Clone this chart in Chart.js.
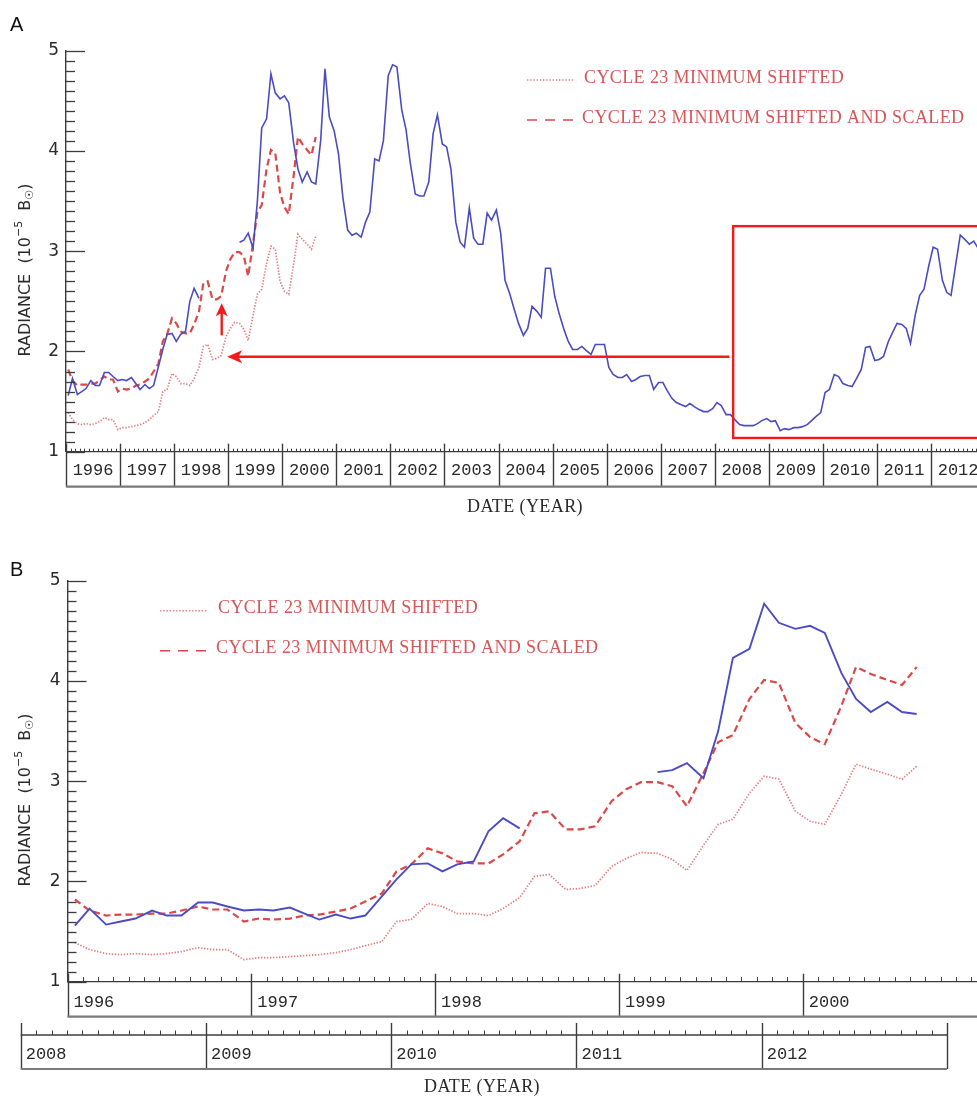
<!DOCTYPE html>
<html>
<head>
<meta charset="utf-8">
<script src="https://cdn.jsdelivr.net/npm/chart.js@4.4.1/dist/chart.umd.min.js"></script>
<style>
  html, body { margin: 0; padding: 0; background: #fff; overflow: hidden; width: 977px; height: 1099px; }
  .panel { position: absolute; left: 0; width: 977px; }
  #wrapA { top: 0; height: 545px; }
  #wrapB { top: 545px; height: 554px; }
</style>
</head>
<body>
<div class="panel" id="wrapA"><canvas id="chartA" width="977" height="545"></canvas></div>
<div class="panel" id="wrapB"><canvas id="chartB" width="977" height="554"></canvas></div>
<script>
// ---- Observed radiance (decimal year, 10^-5 B_sun); null marks the data gap ----
const blueDates = [
  1996.04, 1996.12, 1996.21, 1996.29, 1996.37, 1996.46, 1996.54, 1996.62, 1996.71, 1996.79, 1996.87, 1996.96,
  1997.04, 1997.12, 1997.21, 1997.29, 1997.37, 1997.46, 1997.54, 1997.62, 1997.71, 1997.79, 1997.87, 1997.96,
  1998.04, 1998.12, 1998.21, 1998.29, 1998.37, 1998.46, 1998.83,
  1999.21, 1999.29, 1999.37, 1999.46, 1999.54, 1999.62, 1999.71, 1999.79, 1999.87, 1999.96,
  2000.04, 2000.12, 2000.21, 2000.29, 2000.37, 2000.46, 2000.54, 2000.62, 2000.71, 2000.79, 2000.87, 2000.96,
  2001.04, 2001.12, 2001.21, 2001.29, 2001.37, 2001.46, 2001.54, 2001.62, 2001.71, 2001.79, 2001.87, 2001.96,
  2002.04, 2002.12, 2002.21, 2002.29, 2002.37, 2002.46, 2002.54, 2002.62, 2002.71, 2002.79, 2002.87, 2002.96,
  2003.04, 2003.12, 2003.21, 2003.29, 2003.37, 2003.46, 2003.54, 2003.62, 2003.71, 2003.79, 2003.87, 2003.96,
  2004.04, 2004.12, 2004.21, 2004.29, 2004.37, 2004.46, 2004.54, 2004.62, 2004.71, 2004.79, 2004.87, 2004.96,
  2005.04, 2005.12, 2005.21, 2005.29, 2005.37, 2005.46, 2005.54, 2005.62, 2005.71, 2005.79, 2005.87, 2005.96,
  2006.04, 2006.12, 2006.21, 2006.29, 2006.37, 2006.46, 2006.54, 2006.62, 2006.71, 2006.79, 2006.87, 2006.96,
  2007.04, 2007.12, 2007.21, 2007.29, 2007.37, 2007.46, 2007.54, 2007.62, 2007.71, 2007.79, 2007.87, 2007.96,
  2008.04, 2008.12, 2008.21, 2008.29, 2008.37, 2008.46, 2008.54, 2008.62, 2008.71, 2008.79, 2008.87, 2008.96,
  2009.04, 2009.12, 2009.21, 2009.29, 2009.37, 2009.46, 2009.54, 2009.62, 2009.71, 2009.79, 2009.87, 2009.96,
  2010.04, 2010.12, 2010.21, 2010.29, 2010.37, 2010.46, 2010.54, 2010.62, 2010.71, 2010.79, 2010.87, 2010.96,
  2011.04, 2011.12, 2011.21, 2011.29, 2011.37, 2011.46, 2011.54, 2011.62, 2011.71, 2011.79, 2011.87, 2011.96,
  2012.04, 2012.12, 2012.21, 2012.29, 2012.37, 2012.46, 2012.54, 2012.62, 2012.71, 2012.79, 2012.87
];
const blueValues = [
  1.56, 1.73, 1.57, 1.60, 1.63, 1.71, 1.66, 1.66, 1.79, 1.79, 1.75, 1.71,
  1.72, 1.71, 1.74, 1.68, 1.62, 1.67, 1.63, 1.66, 1.85, 2.02, 2.17, 2.18,
  2.10, 2.17, 2.20, 2.50, 2.63, 2.53, null,
  3.09, 3.11, 3.18, 3.03, 3.50, 4.23, 4.32, 4.77, 4.58, 4.52,
  4.55, 4.48, 4.08, 3.82, 3.69, 3.79, 3.69, 3.67, 4.10, 4.82, 4.34, 4.20,
  3.97, 3.54, 3.21, 3.16, 3.18, 3.14, 3.29, 3.39, 3.92, 3.90, 4.10, 4.75,
  4.86, 4.84, 4.41, 4.21, 3.87, 3.57, 3.55, 3.55, 3.69, 4.17, 4.36, 4.07,
  4.04, 3.82, 3.29, 3.09, 3.04, 3.43, 3.13, 3.07, 3.07, 3.38, 3.31, 3.41,
  3.18, 2.71, 2.57, 2.42, 2.28, 2.16, 2.23, 2.45, 2.40, 2.34, 2.83, 2.83,
  2.55, 2.38, 2.22, 2.10, 2.02, 2.02, 2.05, 2.01, 1.97, 2.07, 2.07, 2.07,
  1.84, 1.77, 1.74, 1.74, 1.77, 1.70, 1.72, 1.75, 1.76, 1.76, 1.62, 1.69,
  1.69, 1.61, 1.53, 1.49, 1.47, 1.45, 1.48, 1.45, 1.42, 1.40, 1.40, 1.43,
  1.49, 1.46, 1.37, 1.37, 1.32, 1.27, 1.26, 1.26, 1.26, 1.28, 1.31, 1.33,
  1.30, 1.31, 1.21, 1.23, 1.22, 1.24, 1.24, 1.25, 1.27, 1.31, 1.35, 1.39,
  1.59, 1.62, 1.77, 1.75, 1.68, 1.66, 1.65, 1.73, 1.82, 2.04, 2.05, 1.91,
  1.92, 1.95, 2.10, 2.19, 2.28, 2.27, 2.23, 2.08, 2.37, 2.56, 2.62, 2.86,
  3.04, 3.02, 2.71, 2.59, 2.56, 2.88, 3.16, 3.12, 3.07, 3.10, 3.03
];

// ---- Cycle 23 minimum, shifted onto 1996-2000 (and shifted + scaled) ----
const shiftedDates = [
  1996.04, 1996.12, 1996.21, 1996.29, 1996.37, 1996.46, 1996.54, 1996.62, 1996.71, 1996.79, 1996.87, 1996.96,
  1997.04, 1997.12, 1997.21, 1997.29, 1997.37, 1997.46, 1997.54, 1997.62, 1997.71, 1997.79, 1997.87, 1997.96,
  1998.04, 1998.12, 1998.21, 1998.29, 1998.37, 1998.46, 1998.54, 1998.62, 1998.71, 1998.79, 1998.87, 1998.96,
  1999.04, 1999.12, 1999.21, 1999.29, 1999.37, 1999.46, 1999.54, 1999.62, 1999.71, 1999.79, 1999.87, 1999.96,
  2000.04, 2000.12, 2000.21, 2000.29, 2000.37, 2000.46, 2000.54, 2000.62
];
const shiftedValues = [
  1.39, 1.32, 1.28, 1.27, 1.28, 1.27, 1.28, 1.30, 1.34, 1.32, 1.32, 1.22,
  1.24, 1.24, 1.25, 1.26, 1.27, 1.29, 1.32, 1.36, 1.40, 1.60, 1.62, 1.78,
  1.75, 1.68, 1.68, 1.66, 1.73, 1.84, 2.05, 2.07, 1.92, 1.93, 1.96, 2.15,
  2.23, 2.29, 2.28, 2.22, 2.11, 2.36, 2.57, 2.62, 2.88, 3.05, 3.02, 2.70,
  2.60, 2.57, 2.87, 3.17, 3.12, 3.07, 3.02, 3.15
];
const scaledValues = [
  1.82, 1.71, 1.66, 1.67, 1.67, 1.68, 1.68, 1.71, 1.75, 1.72, 1.72, 1.60,
  1.63, 1.62, 1.63, 1.66, 1.67, 1.70, 1.73, 1.80, 1.88, 2.10, 2.17, 2.33,
  2.28, 2.20, 2.18, 2.18, 2.27, 2.40, 2.68, 2.70, 2.52, 2.52, 2.55, 2.80,
  2.92, 2.99, 2.99, 2.95, 2.75, 3.08, 3.39, 3.46, 3.82, 4.01, 3.98, 3.58,
  3.44, 3.37, 3.75, 4.14, 4.07, 4.01, 3.96, 4.14
];

// ---- Axis labels ----
const yTickValues = [1, 2, 3, 4, 5];
const yearsA = [1996, 1997, 1998, 1999, 2000, 2001, 2002, 2003, 2004, 2005, 2006, 2007, 2008, 2009, 2010, 2011, 2012];
const yearsB = [1996, 1997, 1998, 1999, 2000];
const yearsB2 = [2008, 2009, 2010, 2011, 2012];
const legendShifted = 'CYCLE 23 MINIMUM SHIFTED';
const legendScaled = 'CYCLE 23 MINIMUM SHIFTED AND SCALED';
const xTitle = 'DATE (YEAR)';

// ---- Annotation geometry in data units (panel A) ----
const boxRegion = { from: 2008.34, to: 2013.5, low: 1.137, high: 3.25 };
const shiftArrow = { from: 2008.27, to: 1998.98, level: 1.947 };
const liftArrow = { at: 1998.88, from: 2.16, to: 2.48 };

// ---- Styles ----
const AXIS = '#3c3c3c';
const BLUE = '#4b4bc4';
const RED_DASH = '#dc4848';
const RED_DOT = 'rgba(226,112,112,0.9)';
const LEGEND_RED = '#d45858';
const MARK_RED = '#f21a1a';
const TEXT = '#2a2a2a';

function pts(dates, values, last) {
  const out = [];
  dates.forEach((d, i) => { if (last === undefined || d <= last + 1e-6) out.push({ x: d, y: values[i] }); });
  return out;
}

function seg(ctx, x1, y1, x2, y2) {
  ctx.beginPath(); ctx.moveTo(x1, y1); ctx.lineTo(x2, y2); ctx.stroke();
}

function arrowHead(ctx, tipX, tipY, dirX, dirY, len, half) {
  const bx = tipX - dirX * len, by = tipY - dirY * len;
  const nx = -dirY, ny = dirX;
  ctx.beginPath();
  ctx.moveTo(tipX, tipY);
  ctx.lineTo(bx + nx * half, by + ny * half);
  ctx.lineTo(bx + dirX * len * 0.25, by + dirY * len * 0.25);
  ctx.lineTo(bx - nx * half, by - ny * half);
  ctx.closePath();
  ctx.fill();
}

function drawYTicks(ctx, chart) {
  const y = chart.scales.y, left = chart.chartArea.left;
  ctx.strokeStyle = AXIS; ctx.lineWidth = 1.3;
  for (let k = 10; k <= 50; k++) {
    const py = Math.round(y.getPixelForValue(k / 10)) + 0.5;
    seg(ctx, left, py, left + (k % 10 === 0 ? 19 : 9), py);
  }
}

// IDL-style boxed year axis: month ticks above the line, a cell per year
function drawYearAxis(ctx, scale, years, s) {
  const W = ctx.canvas.width;
  const first = scale.getPixelForValue(years[0]);
  const end = scale.getPixelForValue(years[years.length - 1] + 1);
  const right = Math.min(end, W);
  ctx.strokeStyle = AXIS; ctx.lineWidth = 1.3;
  seg(ctx, first, s.lineY, right, s.lineY);
  ctx.lineWidth = 1;
  years.forEach(yr => {
    for (let m = 1; m < 12; m++) {
      const px = Math.round(scale.getPixelForValue(yr + m / 12)) + 0.5;
      if (px < W) seg(ctx, px, s.lineY, px, s.lineY - s.minorLen);
    }
  });
  ctx.lineWidth = 1.4;
  [...years, years[years.length - 1] + 1].forEach(yr => {
    const px = Math.round(scale.getPixelForValue(yr)) + 0.5;
    if (px <= W) seg(ctx, px, s.tickTop, px, s.bottom);
  });
  ctx.strokeStyle = '#7a7a7a'; ctx.lineWidth = 2.2;
  seg(ctx, first, s.bottom, right, s.bottom);
  ctx.fillStyle = TEXT;
  ctx.font = '17px "Liberation Mono"';
  ctx.textBaseline = 'middle';
  years.forEach(yr => {
    const a = scale.getPixelForValue(yr), b = scale.getPixelForValue(yr + 1);
    if (s.align === 'center') { ctx.textAlign = 'center'; ctx.fillText(String(yr), (a + b) / 2, s.labelY); }
    else { ctx.textAlign = 'left'; ctx.fillText(String(yr), a + s.labelPad, s.labelY); }
  });
}

function drawRadianceTitle(ctx, cx, cy) {
  const big = '16px "DejaVu Sans"', small = '11px "DejaVu Sans"';
  const parts = [['RADIANCE  (10', big, 0], ['\u22125', small, -7], ['  B', big, 0], ['\u2609', small, 4], [')', big, 0]];
  ctx.save();
  ctx.translate(cx, cy); ctx.rotate(-Math.PI / 2);
  ctx.fillStyle = TEXT; ctx.textBaseline = 'middle'; ctx.textAlign = 'left';
  let total = 0;
  parts.forEach(p => { ctx.font = p[1]; total += ctx.measureText(p[0]).width; });
  let x = -total / 2;
  parts.forEach(p => { ctx.font = p[1]; ctx.fillText(p[0], x, p[2]); x += ctx.measureText(p[0]).width; });
  ctx.restore();
}

function drawXTitle(ctx, cx, cy) {
  ctx.save();
  ctx.fillStyle = TEXT; ctx.font = '18px "Liberation Serif"';
  ctx.letterSpacing = '0.4px';
  ctx.textAlign = 'center'; ctx.textBaseline = 'middle';
  ctx.fillText(xTitle, cx, cy);
  ctx.restore();
}

function drawLegend(ctx, rows) {
  rows.forEach(r => {
    ctx.save();
    ctx.strokeStyle = r.color; ctx.lineWidth = r.width; ctx.setLineDash(r.dash);
    seg(ctx, r.x0, r.sy, r.x1, r.sy);
    ctx.restore();
    ctx.save();
    ctx.fillStyle = LEGEND_RED;
    ctx.font = '18px "Liberation Serif"';
    ctx.letterSpacing = '0.4px';
    ctx.textAlign = 'left'; ctx.textBaseline = 'alphabetic';
    ctx.fillText(r.text, r.tx, r.ty);
    ctx.restore();
  });
}

function panelLetter(ctx, letter, x, y) {
  ctx.fillStyle = '#111'; ctx.font = '20px "Liberation Sans"';
  ctx.textAlign = 'left'; ctx.textBaseline = 'alphabetic';
  ctx.fillText(letter, x, y);
}

function datasets(lastDate) {
  return [
    { data: pts(blueDates, blueValues, lastDate), borderColor: BLUE, borderWidth: lastDate ? 1.9 : 1.6, order: 0 },
    { data: pts(shiftedDates, scaledValues), borderColor: RED_DASH, borderWidth: 2.2, borderDash: [7, 4], order: 1 },
    { data: pts(shiftedDates, shiftedValues), borderColor: RED_DOT, borderWidth: 1.7, borderDash: [1.4, 1.6], order: 2 }
  ].map(d => Object.assign({ pointRadius: 0, fill: false, tension: 0, spanGaps: false }, d));
}

function yScale(width) {
  return {
    min: 1, max: 5,
    afterBuildTicks: s => { s.ticks = yTickValues.map(v => ({ value: v })); },
    afterFit: s => { s.width = width; },
    grid: { drawOnChartArea: false, drawTicks: false },
    border: { display: true, color: AXIS, width: 1.4 },
    ticks: { padding: 7, color: TEXT, font: { family: 'DejaVu Sans', size: 17 } }
  };
}

const baseOptions = {
  responsive: false, animation: false, events: [],
  plugins: { legend: { display: false }, tooltip: { enabled: false } },
  elements: { line: { capBezierPoints: false } }
};

// ---- Panel A: full record 1996-2012 ----
new Chart(document.getElementById('chartA'), {
  type: 'line',
  data: { datasets: datasets() },
  options: Object.assign({}, baseOptions, {
    layout: { padding: { left: 0, right: 0, top: 50.7, bottom: 545 - 451.7 } },
    scales: {
      x: { type: 'linear', min: 1996, max: 2012.85, display: false },
      y: yScale(66)
    }
  }),
  plugins: [{
    id: 'panelA',
    afterDraw(chart) {
      const ctx = chart.ctx, ca = chart.chartArea, x = chart.scales.x, y = chart.scales.y;
      ctx.save();
      drawYTicks(ctx, chart);
      drawYearAxis(ctx, x, yearsA, { lineY: ca.bottom, minorLen: 3, tickTop: ca.bottom - 8, bottom: ca.bottom + 35, labelY: ca.bottom + 19, align: 'center' });
      drawXTitle(ctx, 525, ca.bottom + 56);
      drawRadianceTitle(ctx, 26, 270);
      drawLegend(ctx, [
        { x0: 527, x1: 575, sy: 80, color: RED_DOT, width: 1.6, dash: [1.4, 1.8], text: legendShifted, tx: 584, ty: 82.5 },
        { x0: 527, x1: 575, sy: 120, color: RED_DASH, width: 1.6, dash: [10, 8], text: legendScaled, tx: 582, ty: 122.5 }
      ]);
      // highlighted cycle-24 minimum and the shift arrows
      ctx.strokeStyle = MARK_RED; ctx.fillStyle = MARK_RED; ctx.lineWidth = 2.4;
      const bx0 = x.getPixelForValue(boxRegion.from), bx1 = x.getPixelForValue(boxRegion.to);
      const by0 = y.getPixelForValue(boxRegion.high), by1 = y.getPixelForValue(boxRegion.low);
      ctx.strokeRect(bx0, by0, bx1 - bx0, by1 - by0);
      const ay = y.getPixelForValue(shiftArrow.level);
      const ax0 = x.getPixelForValue(shiftArrow.from), ax1 = x.getPixelForValue(shiftArrow.to);
      seg(ctx, ax0, ay, ax1 + 10, ay);
      arrowHead(ctx, ax1, ay, -1, 0, 15, 6.5);
      const ux = x.getPixelForValue(liftArrow.at);
      const uy0 = y.getPixelForValue(liftArrow.from), uy1 = y.getPixelForValue(liftArrow.to);
      seg(ctx, ux, uy0, ux, uy1 + 9);
      arrowHead(ctx, ux, uy1, 0, -1, 13, 6);
      panelLetter(ctx, 'A', 10, 31);
      ctx.restore();
    }
  }]
});

// ---- Panel B: 1996-2000 overlaid on 2008-2012 ----
const lastShifted = shiftedDates[shiftedDates.length - 1];
new Chart(document.getElementById('chartB'), {
  type: 'line',
  data: { datasets: datasets(lastShifted) },
  options: Object.assign({}, baseOptions, {
    layout: { padding: { left: 0, right: 0, top: 35.7, bottom: 554 - 436.7 } },
    scales: {
      x: { type: 'linear', min: 1996, max: 2000.948, display: false },
      x2: { type: 'linear', position: 'bottom', min: 2008.2526, max: 2013.162, display: false },
      y: yScale(67.5)
    }
  }),
  plugins: [{
    id: 'panelB',
    afterDraw(chart) {
      const ctx = chart.ctx, ca = chart.chartArea;
      ctx.save();
      drawYTicks(ctx, chart);
      drawYearAxis(ctx, chart.scales.x, yearsB, { lineY: ca.bottom, minorLen: 4.5, tickTop: ca.bottom - 8, bottom: ca.bottom + 35, labelY: ca.bottom + 20.5, align: 'left', labelPad: 6 });
      drawYearAxis(ctx, chart.scales.x2, yearsB2, { lineY: ca.bottom + 53.3, minorLen: 4.5, tickTop: ca.bottom + 41.3, bottom: ca.bottom + 87.3, labelY: ca.bottom + 72.5, align: 'left', labelPad: 5 });
      drawXTitle(ctx, 482, ca.bottom + 105.5);
      drawRadianceTitle(ctx, 26, 255);
      drawLegend(ctx, [
        { x0: 160, x1: 207, sy: 65.7, color: RED_DOT, width: 1.6, dash: [1.4, 1.8], text: legendShifted, tx: 218, ty: 67.7 },
        { x0: 160, x1: 207, sy: 105.7, color: RED_DASH, width: 1.6, dash: [10, 8], text: legendScaled, tx: 216, ty: 107.7 }
      ]);
      panelLetter(ctx, 'B', 10, 31);
      ctx.restore();
    }
  }]
});
</script>
</body>
</html>
